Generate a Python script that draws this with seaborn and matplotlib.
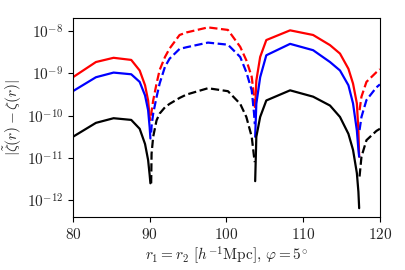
import numpy as np
import matplotlib
matplotlib.use("Agg")
import matplotlib.pyplot as plt
import seaborn as sns

# log10 of |zeta_tilde - zeta|, split at the sign changes
# segment A: solid (80 -> first root)
x_a = [80, 83, 85.3, 87.6, 88.7, 89.4, 89.8, 90.0, 90.1]
red_a = [-9.09, -8.73, -8.63, -8.68, -8.93, -9.28, -9.64, -10.03, -10.1]
blue_a = [-9.42, -9.09, -8.98, -9.02, -9.2, -9.52, -9.87, -10.27, -10.54]
black_a = [-10.5, -10.17, -10.06, -10.1, -10.31, -10.67, -11.05, -11.4, -11.6]

# segment B: dashed (first root -> second root)
x_b = [90.2, 90.25, 90.46, 90.9, 91.3, 92.0, 92.6, 93.9, 94.8, 97.6,
       100.2, 101.8, 102.6, 103.3, 103.6, 103.7]
red_b = [-10.0, -9.9, -9.64, -9.24, -8.92, -8.61, -8.41, -8.09, -8.03, -7.91,
         -7.97, -8.37, -8.69, -9.08, -9.55, -9.8]
blue_b = [-10.4, -10.25, -9.95, -9.56, -9.24, -8.84, -8.65, -8.42, -8.38, -8.27,
          -8.32, -8.61, -8.97, -9.4, -9.94, -10.2]
black_b = [-11.6, -10.9, -10.5, -10.11, -9.95, -9.8, -9.72, -9.58, -9.5, -9.35,
           -9.42, -9.72, -10.03, -10.5, -10.97, -11.1]

# segment C: solid (second root -> third root)
x_c = [103.75, 103.9, 104.4, 105.2, 108.3, 111.3, 113.5, 114.8, 115.9, 116.5,
       117.0, 117.2, 117.3]
red_c = [-9.8, -9.17, -8.61, -8.21, -7.98, -8.09, -8.33, -8.53, -8.89, -9.24,
         -9.71, -10.35, -10.97]
blue_c = [-10.5, -9.72, -9.09, -8.57, -8.30, -8.45, -8.73, -8.93, -9.28, -9.71,
          -10.35, -10.8, -10.97]
black_c = [-11.55, -10.5, -10.03, -9.64, -9.40, -9.55, -9.76, -10.03, -10.43, -10.81,
           -11.36, -11.8, -12.19]

# segment D: dashed (third root -> 120)
x_d = [117.35, 117.6, 118.25, 119.55, 120]
red_d = [-9.87, -9.55, -9.2, -8.97, -8.9]
blue_d = [-10.34, -10.03, -9.63, -9.33, -9.26]
black_d = [-11.44, -10.97, -10.58, -10.36, -10.31]

x_ticks = [80, 90, 100, 110, 120]
y_ticks = [-12, -11, -10, -9, -8]

sns.set_style("ticks")
plt.rcParams["mathtext.fontset"] = "cm"
plt.rcParams["font.family"] = ["DejaVu Serif"]

fig = plt.figure(figsize=(4.05, 2.7), dpi=100)
ax = fig.add_axes([0.180, 0.196, 0.758, 0.737])

segments = [
    (x_a, red_a, blue_a, black_a, "-"),
    (x_b, red_b, blue_b, black_b, "--"),
    (x_c, red_c, blue_c, black_c, "-"),
    (x_d, red_d, blue_d, black_d, "--"),
]
for xs, red, blue, black, ls in segments:
    for vals, col in [(red, "red"), (blue, "blue"), (black, "black")]:
        sns.lineplot(x=xs, y=10 ** np.array(vals), color=col, linestyle=ls,
                     linewidth=1.6, ax=ax, sort=False)

ax.set_yscale("log")
ax.set_xlim(80, 120)
ax.set_ylim(10 ** -12.4, 10 ** -7.69)
ax.set_xticks(x_ticks)
ax.set_xticklabels([f"${t}$" for t in x_ticks], fontsize=11)
ax.set_yticks([10.0 ** p for p in y_ticks])
ax.set_yticklabels([f"$10^{{{p}}}$" for p in y_ticks], fontsize=11)
ax.yaxis.set_minor_locator(matplotlib.ticker.NullLocator())
ax.tick_params(direction="out", length=3.5, width=0.8, color="black")

ax.set_xlabel(r"$r_1 = r_2\ [h^{-1}\mathrm{Mpc}],\, \varphi = 5^{\circ}$", fontsize=11, labelpad=2)
ax.set_ylabel(r"$|\tilde{\zeta}(r) - \zeta(r)|$", fontsize=11, labelpad=2)

for s in ax.spines.values():
    s.set_color("black")
    s.set_linewidth(0.8)

fig.savefig("out.png", dpi=100)
